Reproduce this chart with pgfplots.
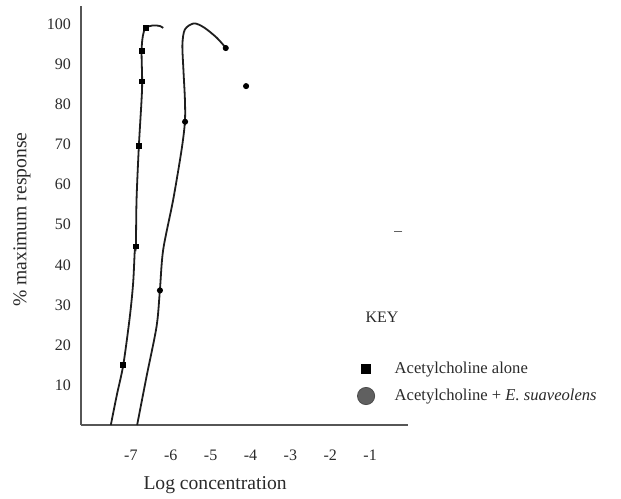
\documentclass[border=0pt]{standalone}
\usepackage{fontspec}
\setmainfont{Liberation Serif}
\usepackage{pgfplots}
\pgfplotsset{compat=1.18}

\definecolor{ink}{HTML}{1E1E1E}
\definecolor{txt}{HTML}{2A2A2A}

\begin{document}
\begin{tikzpicture}
\begin{axis}[
  scale only axis,
  width=163.5bp, height=209.5bp,
  xmin=-8.25, xmax=-0.05,
  ymin=0, ymax=104.6,
  axis x line=bottom, axis y line=left,
  axis line style={draw=ink!75, line width=0.8bp, -},
  major tick length=0pt,
  xtick={-7,-6,-5,-4,-3,-2,-1},
  xticklabels={-7,-6,-5,-4,-3,-2,-1},
  ytick={10,20,30,40,50,60,70,80,90,100},
  /pgf/number format/assume math mode=true,
  tick label style={font=\fontsize{8bp}{9bp}\selectfont, text=txt},
  xticklabel style={yshift=-9bp},
  yticklabel style={xshift=-1.5bp},
  xlabel={Log concentration},
  ylabel={\% maximum response},
  label style={font=\fontsize{9.8bp}{11bp}\selectfont, text=txt},
  xlabel style={at={(axis description cs:0.41,0)}, anchor=center, yshift=-30bp},
  ylabel style={at={(axis description cs:0,0.49)}, anchor=center, yshift=29.5bp},
  clip=false,
  legend style={draw=none, fill=none, inner sep=0pt,
    at={(axis cs:-1.327,15.85)}, anchor=north west,
    nodes={inner sep=0pt, anchor=west, font=\fontsize{8.3bp}{9bp}\selectfont, text=txt},
    row sep=5.5bp,
    /tikz/every odd column/.append style={column sep=10bp}},
  legend cell align=left,
]

% Acetylcholine alone: fitted curve and measured points
\addplot[ink, line width=0.9bp, smooth, tension=0.5, forget plot] coordinates {
  (-7.502,0) (-7.351,7.5) (-7.188,15.1) (-7.025,27.1) (-6.942,35.5)
  (-6.900,43.75) (-6.874,44.6) (-6.857,56.25) (-6.799,69.6) (-6.731,81.25)
  (-6.716,85.8) (-6.731,93.3) (-6.699,97.1) (-6.631,99.1) (-6.448,99.75)
  (-6.272,99.6) (-6.189,99.1)
};
\addplot[only marks, mark=square*, mark size=1.2bp, black, forget plot] coordinates {
  (-7.19,15.1) (-6.87,44.6) (-6.80,69.6) (-6.72,85.8) (-6.73,93.3) (-6.63,99.1)
};

% Acetylcholine + E. suaveolens: fitted curve and measured points
\addplot[ink, line width=0.9bp, smooth, tension=0.5, forget plot] coordinates {
  (-6.842,0) (-6.606,12.1) (-6.355,24.6) (-6.272,33.6) (-6.189,43.75)
  (-5.938,56.25) (-5.727,68.75) (-5.644,75.7) (-5.644,81.25) (-5.682,88.75)
  (-5.707,95) (-5.644,98.75) (-5.418,100.25) (-5.167,99.25) (-4.848,96.7)
  (-4.615,94.1)
};
\addplot[only marks, mark=*, mark size=1.3bp, black, forget plot] coordinates {
  (-6.27,33.6) (-5.64,75.7) (-4.62,94.1) (-4.11,84.6)
};
\addplot[only marks, mark=-, mark size=2bp, ink!70, line width=0.9bp, forget plot] coordinates {
  (-0.29,48.3)
};

\addlegendimage{only marks, mark=square*, mark size=2.3bp, black}
\addlegendentry{Acetylcholine alone}
\addlegendimage{only marks, mark=*, mark size=4.3bp, fill=gray!75!black, draw=gray!60!black}
\addlegendentry{Acetylcholine + \textit{E. suaveolens}}

\node[font=\fontsize{8bp}{9bp}\selectfont, text=txt] at (axis cs:-0.70,27) {KEY};
\end{axis}
\pgfresetboundingbox
\path (-40.5bp,-37bp) rectangle (270bp,212.5bp);
\end{tikzpicture}
\end{document}
